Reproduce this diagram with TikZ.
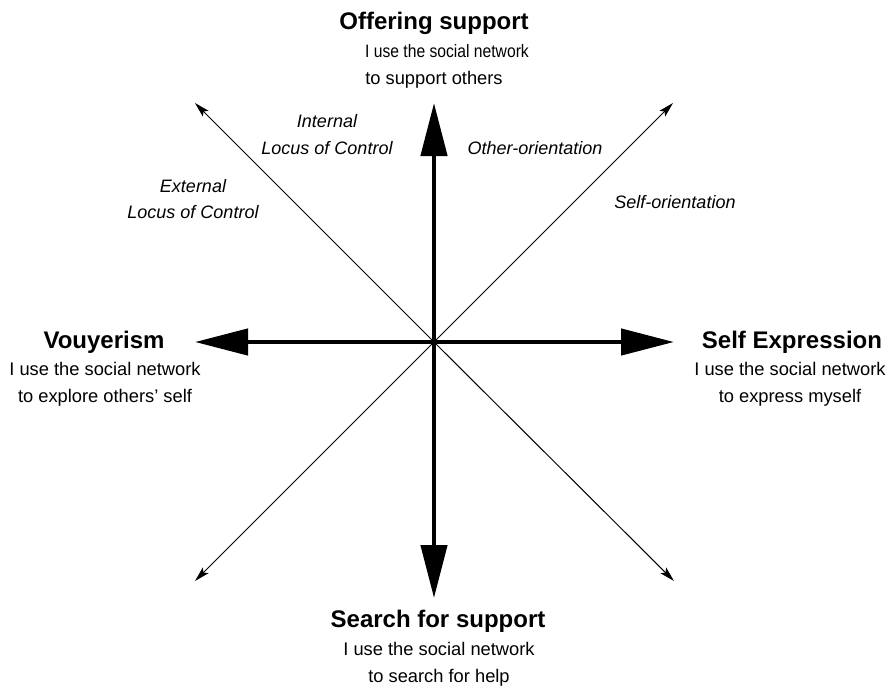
\documentclass[tikz,border=0pt]{standalone}
\usepackage{fontspec}
\setmainfont{Liberation Sans}
\newfontfamily\narrowfont[FakeStretch=0.87]{Liberation Sans}
\usetikzlibrary{arrows.meta}
\begin{document}
\begin{tikzpicture}[x=1pt,y=-1pt,
  thickarrow/.style={line width=4.5pt,-{Triangle[length=53pt,width=26pt]}},
  thinarrow/.style={line width=1pt,-{Stealth[length=15pt,width=8pt,inset=3pt]}},
  title/.style={anchor=base,inner sep=0pt,font=\fontsize{24}{27}\selectfont\bfseries},
  body/.style={anchor=base,inner sep=0pt,font=\fontsize{18.3}{27}\selectfont},
  bodynarrow/.style={anchor=base,inner sep=0pt,font=\fontsize{18}{27}\selectfont\narrowfont},
  note/.style={anchor=base,inner sep=0pt,font=\fontsize{18}{27}\selectfont\itshape}]
\useasboundingbox[fill=white] (0,0) rectangle (892,689);
% axes
\coordinate (c) at (434,342);
\coordinate (top) at (434,103);
\coordinate (bot) at (434,598);
\coordinate (lft) at (195,342);
\coordinate (rgt) at (674,342);
\coordinate (tl) at (195,103);
\coordinate (tr) at (673,103);
\coordinate (bl) at (195,581);
\coordinate (br) at (674,581);
\draw[thinarrow] (c) -- (tl);
\draw[thinarrow] (c) -- (tr);
\draw[thinarrow] (c) -- (bl);
\draw[thinarrow] (c) -- (br);
\draw[thickarrow] (c) -- (top);
\draw[thickarrow] (c) -- (bot);
\draw[thickarrow] (c) -- (lft);
\draw[thickarrow] (c) -- (rgt);
% top
\node[title] (offT) at (434,29) {Offering support};
\node[bodynarrow] (offA) at (447,57) {I use the social network};
\node[body] (offB) at (434,84) {to support others};
% left
\node[title] (vouT) at (104,348) {Vouyerism};
\node[body] (vouA) at (105,375) {I use the social network};
\node[body] (vouB) at (105,402) {to explore others’ self};
% right
\node[title] (selT) at (792,348) {Self Expression};
\node[body] (selA) at (790,375) {I use the social network};
\node[body] (selB) at (790,402) {to express myself};
% bottom
\node[title] (seaT) at (438,627) {Search for support};
\node[body] (seaA) at (439,655) {I use the social network};
\node[body] (seaB) at (439,682) {to search for help};
% orientation labels
\node[note] (intA) at (327,127) {Internal};
\node[note] (intB) at (327,154) {Locus of Control};
\node[note] (extA) at (193,192) {External};
\node[note] (extB) at (193,218) {Locus of Control};
\node[note] (oth) at (535,154) {Other-orientation};
\node[note] (selfo) at (675,208) {Self-orientation};
\end{tikzpicture}
\end{document}
